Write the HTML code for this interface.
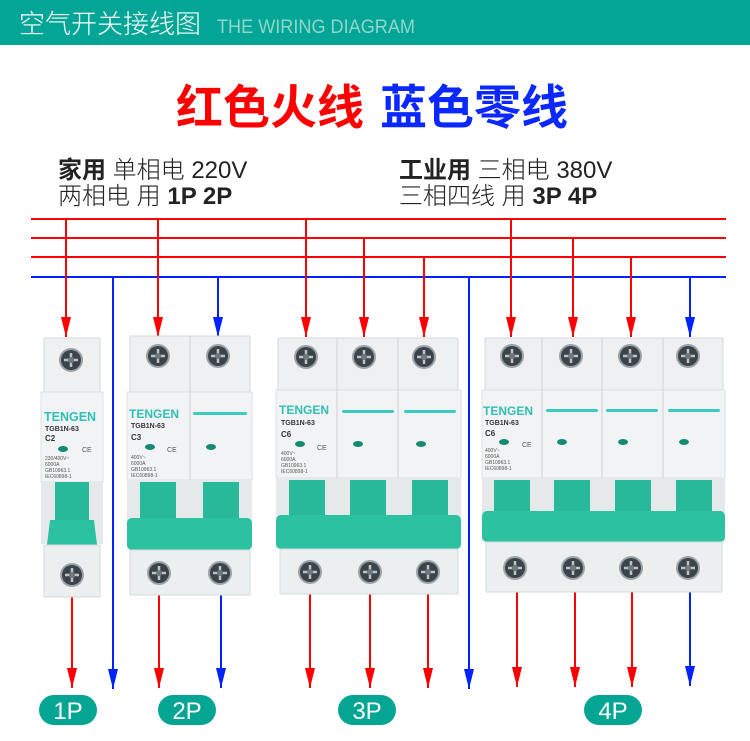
<!DOCTYPE html>
<html><head><meta charset="utf-8"><style>
html,body{margin:0;padding:0;background:#fff;width:750px;height:741px;overflow:hidden}
svg{display:block}
</style></head><body>
<svg width="750" height="741" viewBox="0 0 750 741" xmlns="http://www.w3.org/2000/svg" font-family="Liberation Sans, Noto Sans CJK SC, sans-serif">
<defs>
<marker id="ar" viewBox="0 0 10 20" refX="5" refY="20" markerWidth="10" markerHeight="20" markerUnits="userSpaceOnUse"><path d="M0 0 L10 0 L5 20 Z" fill="#ff0000"/></marker>
<marker id="ab" viewBox="0 0 10 20" refX="5" refY="20" markerWidth="10" markerHeight="20" markerUnits="userSpaceOnUse"><path d="M0 0 L10 0 L5 20 Z" fill="#0022ff"/></marker>
<g id="screw"><circle r="12" fill="#9aa3a8"/><circle r="10" fill="#3d4449"/><path d="M-7 0H7M0 -7V7" stroke="#b8c4c8" stroke-width="2.5"/><circle r="3" fill="#6f7a80"/></g>
</defs>
<rect x="0" y="0" width="750" height="45" fill="#03a696"/>
<text x="19" y="33" font-size="26" fill="#fff" font-family="Noto Sans CJK SC, sans-serif" font-weight="300">空气开关接线图</text>
<text x="217" y="33" font-size="19" fill="#8fd6cc" font-family="Liberation Sans, sans-serif" textLength="198" lengthAdjust="spacingAndGlyphs">THE WIRING DIAGRAM</text>
<text x="176" y="124" font-size="47" font-weight="bold" fill="#ff0000" font-family="Noto Sans CJK SC, sans-serif">红色火线</text>
<text x="380" y="124" font-size="47" font-weight="bold" fill="#0a28ff" font-family="Noto Sans CJK SC, sans-serif">蓝色零线</text>
<g font-family="Liberation Sans, Noto Sans CJK SC, sans-serif" font-size="24" fill="#222">
<text x="58" y="178"><tspan font-weight="bold">家用</tspan> <tspan font-weight="300">单相电 220V</tspan></text>
<text x="58" y="204"><tspan font-weight="300">两相电 用 </tspan><tspan font-weight="bold">1P 2P</tspan></text>
<text x="399" y="178"><tspan font-weight="bold">工业用</tspan> <tspan font-weight="300">三相电 380V</tspan></text>
<text x="399" y="204"><tspan font-weight="300">三相四线 用 </tspan><tspan font-weight="bold">3P 4P</tspan></text>
</g>
<g stroke-width="2">
<line x1="31" y1="219" x2="726" y2="219" stroke="#ff0000"/>
<line x1="31" y1="238" x2="726" y2="238" stroke="#ff0000"/>
<line x1="31" y1="257" x2="726" y2="257" stroke="#ff0000"/>
<line x1="31" y1="277" x2="726" y2="277" stroke="#0022ff"/>
<g stroke="#ff0000">
<line x1="66" y1="219" x2="66" y2="337" marker-end="url(#ar)"/>
<line x1="158" y1="219" x2="158" y2="337" marker-end="url(#ar)"/>
<line x1="306" y1="219" x2="306" y2="337" marker-end="url(#ar)"/>
<line x1="364" y1="238" x2="364" y2="337" marker-end="url(#ar)"/>
<line x1="424" y1="257" x2="424" y2="337" marker-end="url(#ar)"/>
<line x1="511" y1="219" x2="511" y2="337" marker-end="url(#ar)"/>
<line x1="573" y1="238" x2="573" y2="337" marker-end="url(#ar)"/>
<line x1="631" y1="257" x2="631" y2="337" marker-end="url(#ar)"/>
</g>
<g stroke="#0022ff">
<line x1="218" y1="277" x2="218" y2="337" marker-end="url(#ab)"/>
<line x1="690" y1="277" x2="690" y2="337" marker-end="url(#ab)"/>
<line x1="113" y1="277" x2="113" y2="689" marker-end="url(#ab)"/>
<line x1="469" y1="277" x2="469" y2="689" marker-end="url(#ab)"/>
<line x1="221" y1="595" x2="221" y2="688" marker-end="url(#ab)"/>
<line x1="690" y1="592" x2="690" y2="686" marker-end="url(#ab)"/>
</g>
<g stroke="#ff0000">
<line x1="72" y1="597" x2="72" y2="688" marker-end="url(#ar)"/>
<line x1="159" y1="595" x2="159" y2="688" marker-end="url(#ar)"/>
<line x1="310" y1="594" x2="310" y2="688" marker-end="url(#ar)"/>
<line x1="370" y1="594" x2="370" y2="688" marker-end="url(#ar)"/>
<line x1="428" y1="594" x2="428" y2="688" marker-end="url(#ar)"/>
<line x1="517" y1="592" x2="517" y2="687" marker-end="url(#ar)"/>
<line x1="575" y1="592" x2="575" y2="687" marker-end="url(#ar)"/>
<line x1="632" y1="592" x2="632" y2="687" marker-end="url(#ar)"/>
</g>
</g>

<!-- 1P -->
<g>
<rect x="44" y="338" width="56" height="54" fill="#eef0f1" stroke="#d6dadc"/>
<rect x="41" y="392" width="62" height="90" fill="#f2f3f4" stroke="#dcdfe1"/>
<rect x="41" y="482" width="62" height="62" fill="#e6e9ea"/>
<rect x="55" y="482" width="34" height="40" fill="#27b99a"/>
<path d="M50 520 H94 L97 545 H47 Z" fill="#2cc1a0"/>
<rect x="44" y="545" width="56" height="52" fill="#eceff0" stroke="#d6dadc"/>
<use href="#screw" x="71" y="360"/>
<use href="#screw" x="72" y="575"/>
<text x="44" y="421" font-size="12.5" fill="#2fbfb5" font-weight="bold">TENGEN</text>
<text x="45" y="431" font-size="7" fill="#333" font-weight="bold">TGB1N-63</text>
<text x="45" y="441" font-size="8" fill="#333" font-weight="bold">C2</text>
<ellipse cx="63" cy="449" rx="5" ry="3" fill="#148a73"/>
<text x="45" y="460" font-size="5" fill="#555">230/400V~</text>
<text x="45" y="466" font-size="5" fill="#555">6000A</text>
<text x="45" y="472" font-size="5" fill="#555">GB10963.1</text>
<text x="45" y="478" font-size="5" fill="#555">IEC60898-1</text>
<text x="82" y="452" font-size="7" fill="#555">CE</text>
</g>

<!-- 2P -->
<g>
<rect x="130" y="336" width="120" height="56" fill="#eef0f1" stroke="#d6dadc"/>
<rect x="127" y="392" width="125" height="88" fill="#f2f3f4" stroke="#dcdfe1"/>
<line x1="190" y1="336" x2="190" y2="595" stroke="#cfd3d5"/>
<rect x="127" y="480" width="125" height="68" fill="#e6e9ea"/>
<rect x="140" y="482" width="36" height="40" fill="#27b99a"/>
<rect x="203" y="482" width="36" height="40" fill="#27b99a"/>
<rect x="127" y="518" width="125" height="32" rx="5" fill="#2cc1a0"/>
<rect x="130" y="550" width="120" height="45" fill="#eceff0" stroke="#d6dadc"/>
<use href="#screw" x="158" y="356"/><use href="#screw" x="218" y="356"/>
<use href="#screw" x="159" y="573"/><use href="#screw" x="220" y="573"/>
<text x="129" y="418" font-size="12" fill="#2fbfb5" font-weight="bold">TENGEN</text>
<text x="131" y="428" font-size="7" fill="#333" font-weight="bold">TGB1N-63</text>
<text x="131" y="440" font-size="8" fill="#333" font-weight="bold">C3</text>
<ellipse cx="150" cy="447" rx="5" ry="3" fill="#148a73"/>
<rect x="193" y="412" width="54" height="3" rx="1.5" fill="#3ccbc0"/>
<ellipse cx="211" cy="447" rx="5" ry="3" fill="#148a73"/>
<text x="131" y="459" font-size="5" fill="#555">400V~</text>
<text x="131" y="465" font-size="5" fill="#555">6000A</text>
<text x="131" y="471" font-size="5" fill="#555">GB10963.1</text>
<text x="131" y="477" font-size="5" fill="#555">IEC60898-1</text>
<text x="167" y="452" font-size="7" fill="#555">CE</text>
</g>

<!-- 3P -->
<g>
<rect x="278" y="338" width="180" height="52" fill="#eef0f1" stroke="#d6dadc"/>
<rect x="276" y="390" width="185" height="88" fill="#f2f3f4" stroke="#dcdfe1"/>
<line x1="337" y1="338" x2="337" y2="594" stroke="#cfd3d5"/>
<line x1="398" y1="338" x2="398" y2="594" stroke="#cfd3d5"/>
<rect x="276" y="478" width="185" height="70" fill="#e6e9ea"/>
<rect x="289" y="480" width="36" height="40" fill="#27b99a"/>
<rect x="350" y="480" width="36" height="40" fill="#27b99a"/>
<rect x="412" y="480" width="36" height="40" fill="#27b99a"/>
<rect x="276" y="515" width="185" height="34" rx="5" fill="#2cc1a0"/>
<rect x="280" y="549" width="178" height="45" fill="#eceff0" stroke="#d6dadc"/>
<use href="#screw" x="306" y="357"/><use href="#screw" x="364" y="357"/><use href="#screw" x="424" y="357"/>
<use href="#screw" x="310" y="572"/><use href="#screw" x="370" y="572"/><use href="#screw" x="428" y="572"/>
<text x="279" y="414" font-size="12" fill="#2fbfb5" font-weight="bold">TENGEN</text>
<text x="281" y="425" font-size="7" fill="#333" font-weight="bold">TGB1N-63</text>
<text x="281" y="437" font-size="8" fill="#333" font-weight="bold">C6</text>
<ellipse cx="300" cy="444" rx="5" ry="3" fill="#148a73"/>
<rect x="342" y="410" width="52" height="3" rx="1.5" fill="#3ccbc0"/>
<rect x="404" y="410" width="52" height="3" rx="1.5" fill="#3ccbc0"/>
<ellipse cx="358" cy="444" rx="5" ry="3" fill="#148a73"/>
<ellipse cx="421" cy="444" rx="5" ry="3" fill="#148a73"/>
<text x="281" y="455" font-size="5" fill="#555">400V~</text>
<text x="281" y="461" font-size="5" fill="#555">6000A</text>
<text x="281" y="467" font-size="5" fill="#555">GB10963.1</text>
<text x="281" y="473" font-size="5" fill="#555">IEC60898-1</text>
<text x="317" y="450" font-size="7" fill="#555">CE</text>
</g>

<!-- 4P -->
<g>
<rect x="485" y="338" width="238" height="52" fill="#eef0f1" stroke="#d6dadc"/>
<rect x="482" y="390" width="243" height="88" fill="#f2f3f4" stroke="#dcdfe1"/>
<line x1="542" y1="338" x2="542" y2="592" stroke="#cfd3d5"/>
<line x1="602" y1="338" x2="602" y2="592" stroke="#cfd3d5"/>
<line x1="663" y1="338" x2="663" y2="592" stroke="#cfd3d5"/>
<rect x="482" y="478" width="243" height="62" fill="#e6e9ea"/>
<rect x="494" y="480" width="36" height="36" fill="#27b99a"/>
<rect x="554" y="480" width="36" height="36" fill="#27b99a"/>
<rect x="615" y="480" width="36" height="36" fill="#27b99a"/>
<rect x="676" y="480" width="36" height="36" fill="#27b99a"/>
<rect x="482" y="511" width="243" height="31" rx="5" fill="#2cc1a0"/>
<rect x="486" y="542" width="236" height="50" fill="#eceff0" stroke="#d6dadc"/>
<use href="#screw" x="512" y="356"/><use href="#screw" x="571" y="356"/><use href="#screw" x="630" y="356"/><use href="#screw" x="688" y="356"/>
<use href="#screw" x="515" y="568"/><use href="#screw" x="573" y="568"/><use href="#screw" x="631" y="568"/><use href="#screw" x="688" y="568"/>
<text x="483" y="415" font-size="12" fill="#2fbfb5" font-weight="bold">TENGEN</text>
<text x="485" y="425" font-size="7" fill="#333" font-weight="bold">TGB1N-63</text>
<text x="485" y="436" font-size="8" fill="#333" font-weight="bold">C6</text>
<ellipse cx="504" cy="442" rx="5" ry="3" fill="#148a73"/>
<rect x="546" y="409" width="52" height="3" rx="1.5" fill="#3ccbc0"/>
<rect x="606" y="409" width="52" height="3" rx="1.5" fill="#3ccbc0"/>
<rect x="668" y="409" width="52" height="3" rx="1.5" fill="#3ccbc0"/>
<ellipse cx="562" cy="442" rx="5" ry="3" fill="#148a73"/>
<ellipse cx="623" cy="442" rx="5" ry="3" fill="#148a73"/>
<ellipse cx="684" cy="442" rx="5" ry="3" fill="#148a73"/>
<text x="485" y="452" font-size="5" fill="#555">400V~</text>
<text x="485" y="458" font-size="5" fill="#555">6000A</text>
<text x="485" y="464" font-size="5" fill="#555">GB10963.1</text>
<text x="485" y="470" font-size="5" fill="#555">IEC60898-1</text>
<text x="522" y="447" font-size="7" fill="#555">CE</text>
</g>

<!-- labels -->
<g font-family="Liberation Sans, sans-serif" font-size="24" fill="#fff" text-anchor="middle">
<rect x="39" y="695" width="58" height="30" rx="15" fill="#05a594"/><text x="68" y="719">1P</text>
<rect x="158" y="695" width="58" height="30" rx="15" fill="#05a594"/><text x="187" y="719">2P</text>
<rect x="338" y="695" width="58" height="30" rx="15" fill="#05a594"/><text x="367" y="719">3P</text>
<rect x="584" y="695" width="58" height="30" rx="15" fill="#05a594"/><text x="613" y="719">4P</text>
</g>
</svg>
</body></html>
